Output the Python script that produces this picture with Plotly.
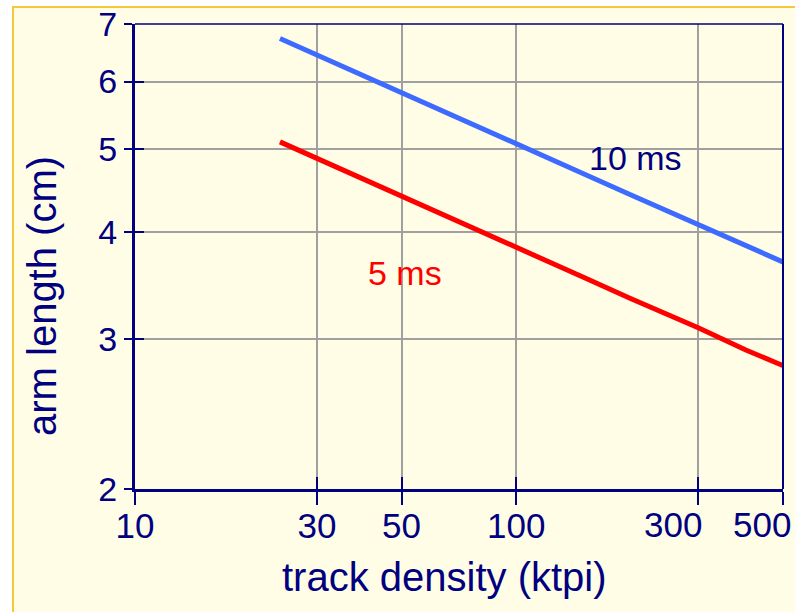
import math
import plotly.graph_objects as go

# Track density (ktpi) sample points
density = [24, 30, 40, 50, 70, 100, 150, 200, 300, 400, 500]
# Arm length (cm) for each seek time
arm_10ms = [6.74, 6.45, 6.09, 5.83, 5.45, 5.08, 4.68, 4.42, 4.08, 3.86, 3.69]
arm_5ms = [5.10, 4.88, 4.61, 4.40, 4.12, 3.84, 3.54, 3.34, 3.09, 2.91, 2.79]

x_ticks = [10, 30, 50, 100, 300, 500]
x_labels = ["10", "30", "50", "100", "300", "500"]
y_ticks = [2, 3, 4, 5, 6, 7]

NAVY = "#000080"
FONT = "Liberation Sans, Arial, sans-serif"

W, H = 795, 612
ML, MR, MT, MB = 135, 12, 24, 123
PW, PH = W - ML - MR, H - MT - MB


def px_x(p):
    return (p - ML) / PW


def px_y(p):
    return (H - MB - p) / PH


x_range = [math.log10(10), math.log10(500) + 0.0005]
y_range = [math.log10(2), math.log10(7) + 0.0005]

# "300" and "500" are set left of their ticks so they stay on the page
x_ticktext = x_labels[:4] + ["", ""]

fig = go.Figure()

fig.add_trace(go.Scatter(
    x=density, y=arm_10ms, mode="lines", name="10 ms",
    line=dict(color="#3d6bff", width=5), hoverinfo="x+y"))
fig.add_trace(go.Scatter(
    x=density, y=arm_5ms, mode="lines", name="5 ms",
    line=dict(color="#ff0000", width=5), hoverinfo="x+y"))

# Invisible trace carrying the overlay axes that draw the inner halves of the ticks
fig.add_trace(go.Scatter(
    x=[density[0]], y=[arm_5ms[0]], mode="markers", xaxis="x2", yaxis="y2",
    marker=dict(opacity=0), hoverinfo="skip", showlegend=False))

fig.update_layout(
    width=W, height=H,
    margin=dict(l=ML, r=MR, t=MT, b=MB, pad=0, autoexpand=False),
    paper_bgcolor="#ffffff",
    plot_bgcolor="#fdfdcc",
    showlegend=False,
    xaxis=dict(
        type="log", range=x_range, tickvals=x_ticks, ticktext=x_ticktext,
        ticks="outside", ticklen=13, tickwidth=2, tickcolor=NAVY,
        ticklabelstandoff=-9, ticklabeloverflow="allow", automargin=False,
        showline=True, linecolor=NAVY, linewidth=3,
        showgrid=True, gridcolor="#a0a0a0", gridwidth=1.5,
        tickfont=dict(family=FONT, size=35, color=NAVY),
        zeroline=False, fixedrange=True,
    ),
    yaxis=dict(
        type="log", range=y_range, tickvals=y_ticks,
        ticktext=[str(v) for v in y_ticks],
        ticks="outside", ticklen=8, tickwidth=2, tickcolor=NAVY,
        ticklabeloverflow="allow", automargin=False,
        showline=True, linecolor=NAVY, linewidth=3,
        showgrid=True, gridcolor="#a0a0a0", gridwidth=1.5,
        tickfont=dict(family=FONT, size=34, color=NAVY),
        zeroline=False, fixedrange=True,
    ),
    xaxis2=dict(
        type="log", range=x_range, tickvals=x_ticks, overlaying="x",
        anchor="y2", side="bottom", automargin=False,
        ticks="inside", ticklen=12, tickwidth=2, tickcolor=NAVY,
        showticklabels=False, showgrid=False, showline=False,
        zeroline=False, fixedrange=True,
    ),
    yaxis2=dict(
        type="log", range=y_range, tickvals=y_ticks, overlaying="y",
        anchor="x2", side="left", automargin=False,
        ticks="inside", ticklen=9, tickwidth=2, tickcolor=NAVY,
        showticklabels=False, showgrid=False, showline=False,
        zeroline=False, fixedrange=True,
    ),
    shapes=[
        # slide background with its yellow frame
        dict(type="rect", xref="paper", yref="paper", layer="below",
             x0=px_x(13), x1=px_x(W + 20), y0=px_y(H + 20), y1=px_y(7),
             fillcolor="#fffde6", line=dict(color="#f6c83a", width=2)),
        # thin frame on the top and right of the plot area
        dict(type="line", xref="paper", yref="paper", x0=0, x1=1, y0=1, y1=1,
             line=dict(color=NAVY, width=1.5)),
        dict(type="line", xref="paper", yref="paper", x0=1, x1=1, y0=0, y1=1,
             line=dict(color=NAVY, width=2)),
    ],
    annotations=[
        dict(text=x_labels[4], x=px_x(704), y=px_y(524),
             xref="paper", yref="paper", showarrow=False,
             xanchor="right", yanchor="middle",
             font=dict(family=FONT, size=35, color=NAVY)),
        dict(text=x_labels[5], x=px_x(793), y=px_y(524),
             xref="paper", yref="paper", showarrow=False,
             xanchor="right", yanchor="middle",
             font=dict(family=FONT, size=35, color=NAVY)),
        dict(text="10 ms", x=math.log10(205), y=math.log10(4.88),
             xref="x", yref="y", showarrow=False,
             xanchor="center", yanchor="middle",
             font=dict(family=FONT, size=34, color=NAVY)),
        dict(text="5 ms", x=math.log10(51), y=math.log10(3.58),
             xref="x", yref="y", showarrow=False,
             xanchor="center", yanchor="middle",
             font=dict(family=FONT, size=34, color="#ff0000")),
        dict(text="track density (ktpi)", x=px_x(444), y=px_y(577),
             xref="paper", yref="paper", showarrow=False,
             xanchor="center", yanchor="middle",
             font=dict(family=FONT, size=40, color=NAVY)),
        dict(text="arm length (cm)", x=px_x(42), y=px_y(296),
             xref="paper", yref="paper", showarrow=False, textangle=-90,
             xanchor="center", yanchor="middle",
             font=dict(family=FONT, size=40, color=NAVY)),
    ],
)

fig.write_html("out.html")
